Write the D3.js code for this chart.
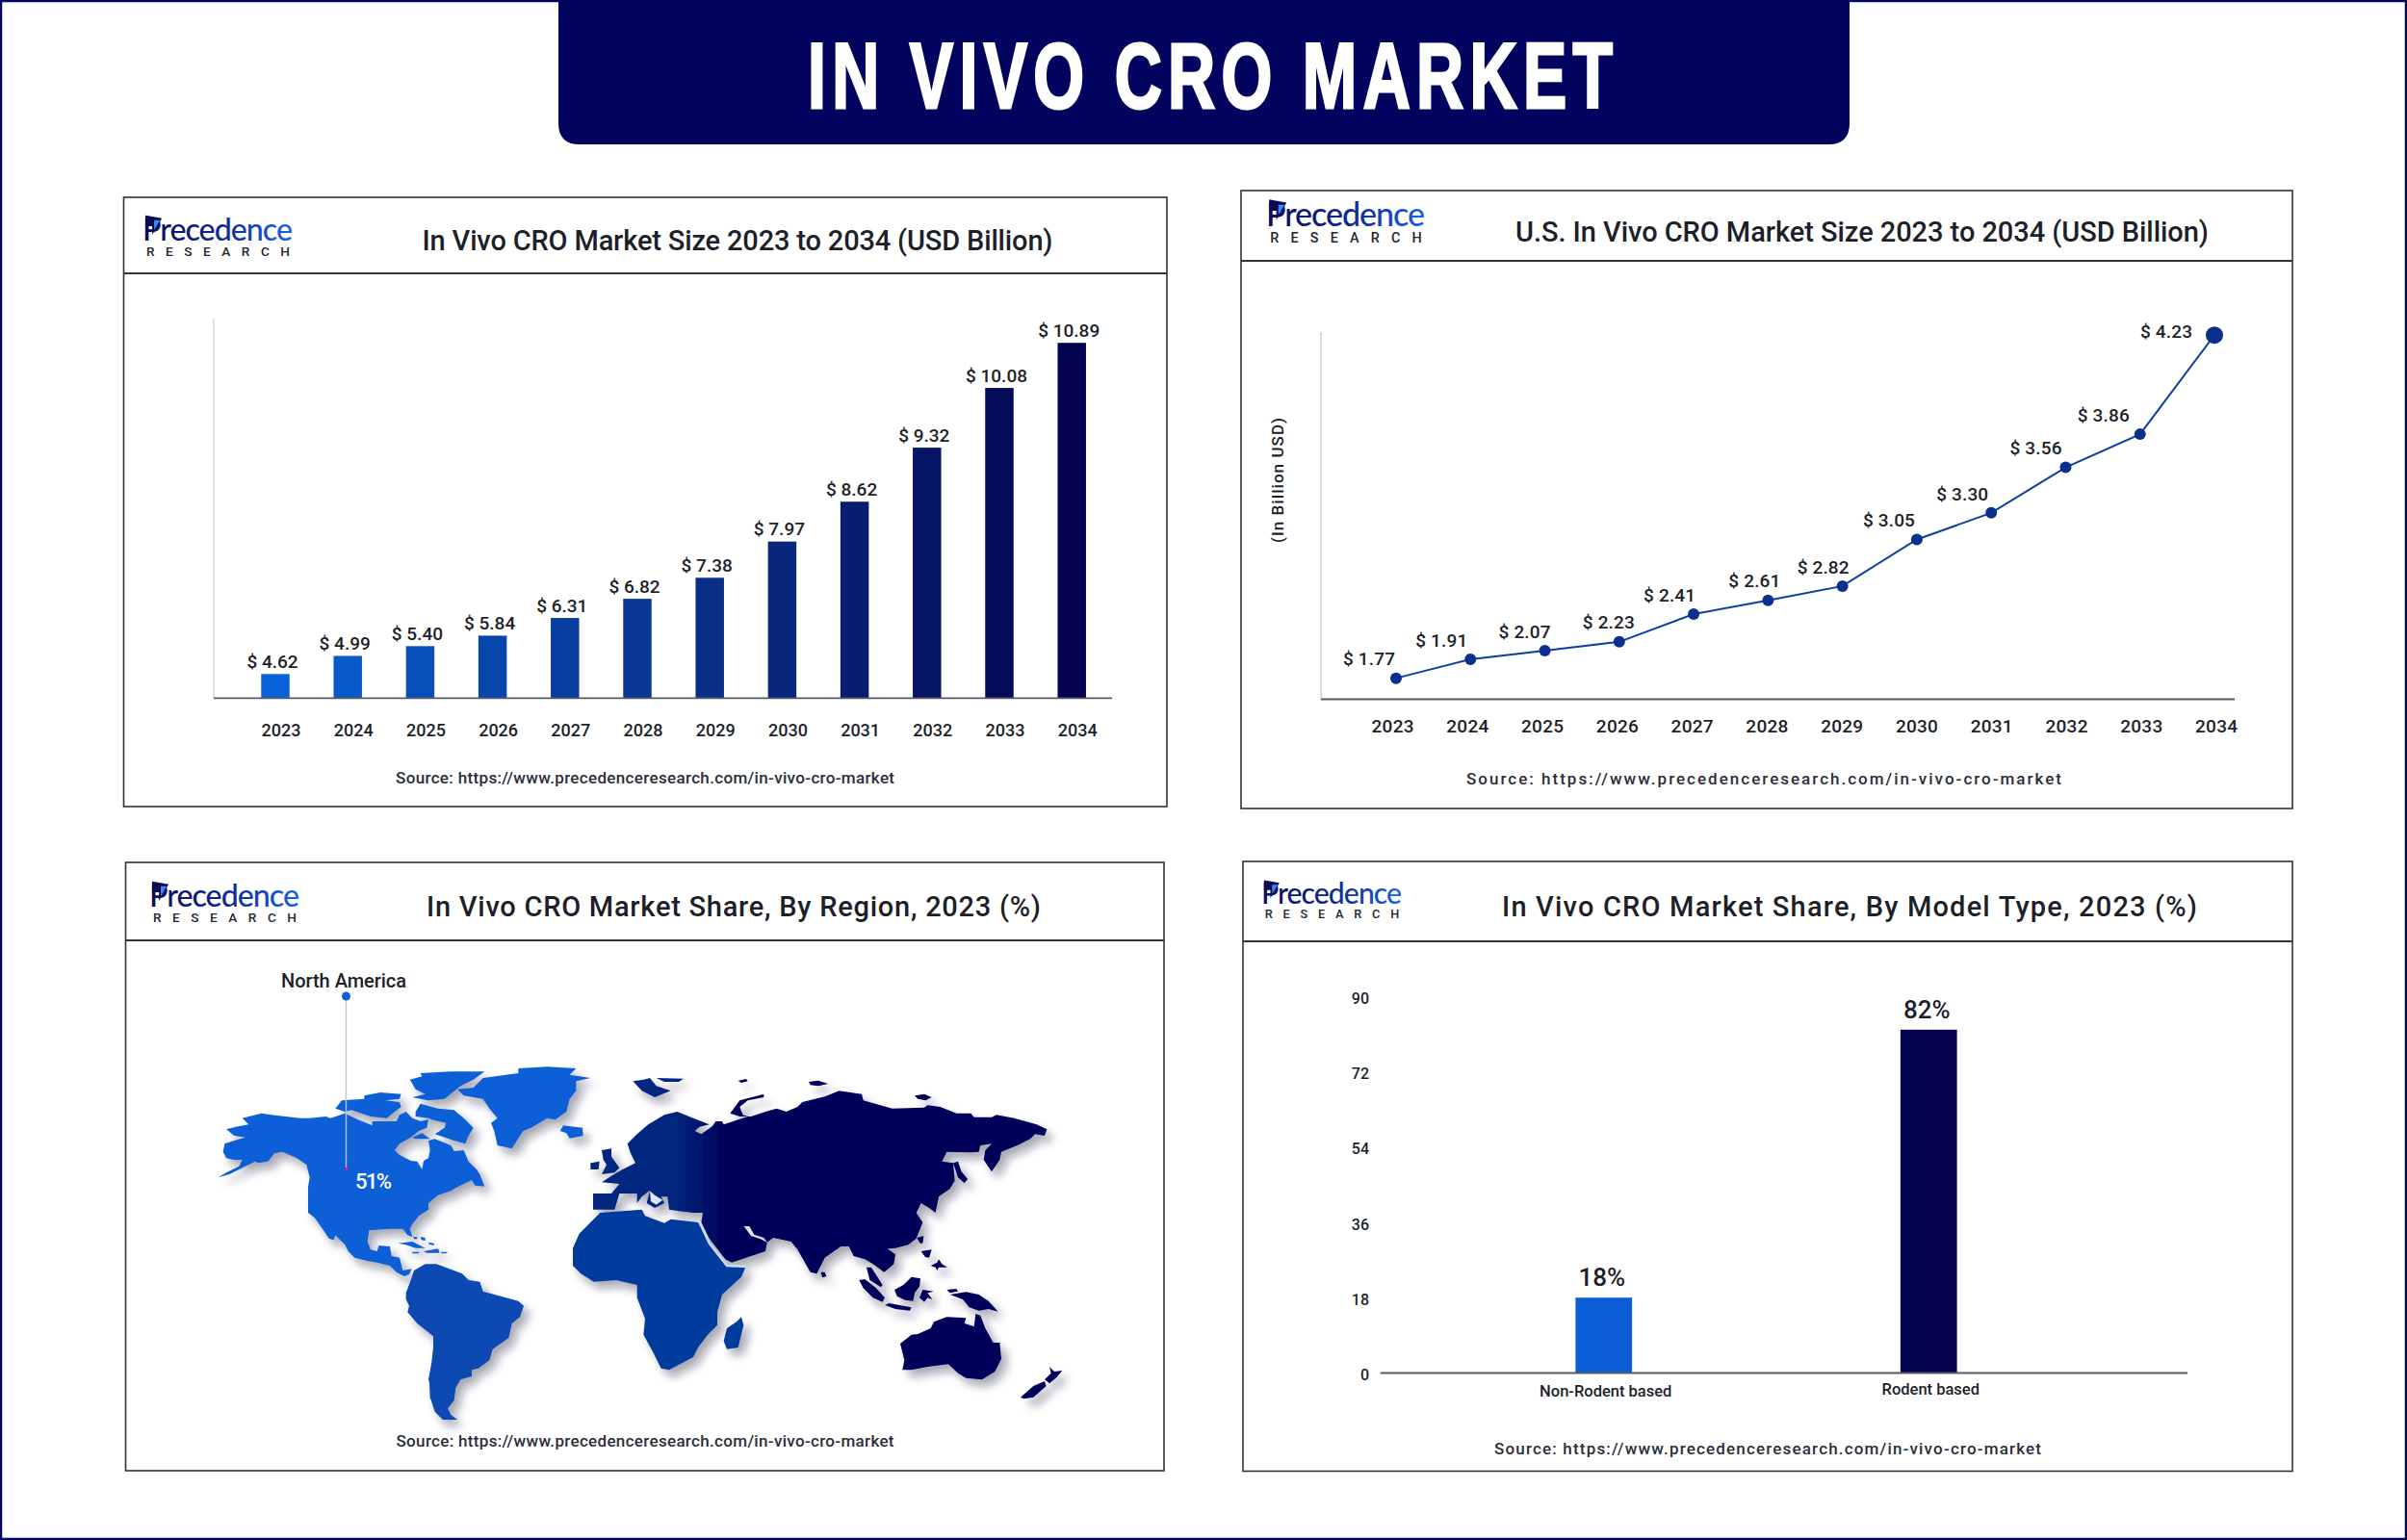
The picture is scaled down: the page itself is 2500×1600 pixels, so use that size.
<!DOCTYPE html>
<html>
<head>
<meta charset="utf-8">
<title>In Vivo CRO Market</title>
<script src="https://d3js.org/d3.v7.min.js"></script>
<style>
  body { margin: 0; background: #fff; }
  text { font-family: Roboto, "Noto Sans", sans-serif; font-weight: 500; fill: #1d1f2a; }
</style>
</head>
<body>
<svg id="chart" width="2500" height="1600"></svg>
<script>
// Chart data
const years = [2023, 2024, 2025, 2026, 2027, 2028, 2029, 2030, 2031, 2032, 2033, 2034];
const sizeValues = [4.62, 4.99, 5.40, 5.84, 6.31, 6.82, 7.38, 7.97, 8.62, 9.32, 10.08, 10.89];
const usValues = [1.77, 1.91, 2.07, 2.23, 2.41, 2.61, 2.82, 3.05, 3.30, 3.56, 3.86, 4.23];
const regionNames = ["North America"];
const regionShares = [51];
const modelTypes = ["Non-Rodent based", "Rodent based"];
const modelShares = [18, 82];
const modelTicks = [0, 18, 36, 54, 72, 90];

// The reference draws its bars and line on an uneven axis, not in proportion to the
// printed labels, so these two y scales are polylinear: value -> share of plot height
const sizeAxisValues = [4.62, 4.99, 5.84, 7.38, 8.62, 9.32, 10.08, 10.89];
const sizeAxisShare = [0.068, 0.119, 0.176, 0.339, 0.553, 0.705, 0.873, 1];
const usAxisValues = [1.77, 1.91, 2.23, 2.41, 2.82, 3.05, 3.30, 3.56, 3.86, 4.23];
const usAxisShare = [0.058, 0.110, 0.158, 0.234, 0.311, 0.439, 0.512, 0.637, 0.728, 1];

const sourceText = "Source: https://www.precedenceresearch.com/in-vivo-cro-market";

const svg = d3.select("#chart");
const defs = svg.append("defs");

// Gradients and the map shadow
const logoGrad = defs.append("linearGradient").attr("id", "logoGrad");
logoGrad.append("stop").attr("offset", "0%").attr("stop-color", "#0a0a55");
logoGrad.append("stop").attr("offset", "55%").attr("stop-color", "#102a9a");
logoGrad.append("stop").attr("offset", "100%").attr("stop-color", "#1a63e6");

const eurasiaGrad = defs.append("linearGradient").attr("id", "eurasiaGrad")
  .attr("gradientUnits", "userSpaceOnUse")
  .attr("x1", 700).attr("x2", 750).attr("y1", 0).attr("y2", 0);
eurasiaGrad.append("stop").attr("offset", "0%").attr("stop-color", "#05287f");
eurasiaGrad.append("stop").attr("offset", "100%").attr("stop-color", "#03035a");

const shadow = defs.append("filter").attr("id", "mapShadow")
  .attr("x", "-10%").attr("y", "-10%").attr("width", "120%").attr("height", "120%");
shadow.append("feDropShadow").attr("dx", 6).attr("dy", 7).attr("stdDeviation", 5)
  .attr("flood-color", "#1a1f3a").attr("flood-opacity", 0.38);

// Small text helper, y is the vertical centre of the text
function label(parent, x, y, str, size, opts = {}) {
  const t = parent.append("text")
    .attr("x", x).attr("y", y).attr("dy", "0.35em")
    .attr("text-anchor", opts.anchor || "middle")
    .style("font-size", size + "px")
    .text(str);
  if (opts.width) t.attr("textLength", opts.width).attr("lengthAdjust", "spacing");
  if (opts.fill) t.style("fill", opts.fill);
  if (opts.weight) t.style("font-weight", opts.weight);
  return t;
}

function logo(x, baseline, width) {
  const g = svg.append("g")
    .attr("transform", `translate(${x},${baseline}) scale(${width / 155})`);
  g.append("text")
    .attr("x", 0).attr("y", 0)
    .attr("textLength", 155).attr("lengthAdjust", "spacing")
    .style("font-family", "Lato, sans-serif").style("font-size", "32px").style("font-weight", 500)
    .style("fill", "url(#logoGrad)")
    .text("Precedence");
  g.append("path").attr("d", "M3,-26 L20,-23 L10,-6 L10,-15 L3,-15 Z").attr("fill", "#0a0a55");
  g.append("path").attr("d", "M12,-21 L18,-21 L12,-11 Z").attr("fill", "#3d8bf0");
  g.append("text")
    .attr("x", 4).attr("y", 16)
    .attr("textLength", 148).attr("lengthAdjust", "spacing")
    .style("font-size", "13.5px")
    .style("fill", "#23262f")
    .text("RESEARCH");
}

function panel(x0, y0, x1, y1, headerY, title, titleX, titleY, titleW, sourceX, sourceY, sourceW) {
  svg.append("rect")
    .attr("x", x0).attr("y", y0).attr("width", x1 - x0).attr("height", y1 - y0)
    .attr("fill", "#fff").attr("stroke", "#30323c").attr("stroke-width", 1.6);
  svg.append("line")
    .attr("x1", x0).attr("x2", x1).attr("y1", headerY).attr("y2", headerY)
    .attr("stroke", "#30323c").attr("stroke-width", 1.8);
  label(svg, titleX, titleY, title, 29, { width: titleW });
  label(svg, sourceX, sourceY, sourceText, 17, { width: sourceW, fill: "#2b2e3a" });
}

// Page frame and banner
svg.append("rect").attr("x", 1).attr("y", 1).attr("width", 2498).attr("height", 1598)
  .attr("fill", "#fff").attr("stroke", "#02025f").attr("stroke-width", 2.5);
svg.append("path")
  .attr("d", "M580,0 H1921 V128 Q1921,150 1899,150 H602 Q580,150 580,128 Z")
  .attr("fill", "#02025f");
svg.append("text")
  .attr("transform", "translate(839,112) scale(0.7,1)")
  .attr("textLength", 836 / 0.7).attr("lengthAdjust", "spacing")
  .style("font-family", '"Liberation Sans", sans-serif')
  .style("font-size", "97px").style("font-weight", 700).style("fill", "#fff")
  .style("stroke", "#fff").style("stroke-width", 3)
  .text("IN VIVO CRO MARKET");

// Top left: market size bars
panel(128.5, 205, 1212, 838, 284, "In Vivo CRO Market Size 2023 to 2034 (USD Billion)", 766, 250, 655, 670, 808, 518);
logo(148, 250, 156);

const sizeBase = 725.4, sizeTop = 356.2;
const sizeX = d3.scaleBand().domain(years).range([248.4, 1150.8]).paddingInner(0.608).paddingOuter(0.304);
const sizeY = d3.scaleLinear()
  .domain(sizeAxisValues)
  .range(sizeAxisShare.map(s => sizeBase - s * (sizeBase - sizeTop)));
const sizeColor = d3.scaleLinear().domain([0, 3, 6, 11])
  .range(["#0a62d8", "#0846ae", "#0a2f88", "#03034f"]);

svg.append("line").attr("x1", 222).attr("x2", 222).attr("y1", 331).attr("y2", sizeBase)
  .attr("stroke", "#d4d6dc").attr("stroke-width", 1.4);
svg.append("g").selectAll("rect").data(years).join("rect")
  .attr("x", d => sizeX(d))
  .attr("width", sizeX.bandwidth())
  .attr("y", (d, i) => sizeY(sizeValues[i]))
  .attr("height", (d, i) => sizeBase - sizeY(sizeValues[i]))
  .attr("fill", (d, i) => sizeColor(i));
svg.append("line").attr("x1", 222).attr("x2", 1155).attr("y1", sizeBase).attr("y2", sizeBase)
  .attr("stroke", "#555a66").attr("stroke-width", 1.8);
years.forEach((d, i) => {
  label(svg, sizeX(d) + sizeX.bandwidth() / 2 - 3, sizeY(sizeValues[i]) - 13, `$ ${sizeValues[i].toFixed(2)}`, 19);
});
const sizeAxis = svg.append("g").attr("transform", "translate(6,752)")
  .call(d3.axisBottom(sizeX).tickSize(0).tickPadding(0));
sizeAxis.select(".domain").remove();
sizeAxis.selectAll("text").style("font-size", "18px").style("fill", "#1d1f2a");

// Top right: U.S. market size line
panel(1289, 198, 2381, 840, 271, "U.S. In Vivo CRO Market Size 2023 to 2034 (USD Billion)", 1934, 240.5, 720, 1832, 809, 618);
logo(1315, 235, 165);

const usBase = 726.6, usTop = 348.2;
const usX = d3.scalePoint().domain(years).range([1450, 2300]);
const usTickX = d3.scalePoint().domain(years).range([1446, 2301.5]);
const usY = d3.scaleLinear()
  .domain(usAxisValues)
  .range(usAxisShare.map(s => usBase - s * (usBase - usTop)));
const usLine = d3.line().x((d, i) => usX(years[i])).y(d => usY(d));
// label nudges where the reference leaves the usual spot
const usLabelDx = { 2023: -28, 2024: -30, 2025: -21, 2026: -11, 2027: -25, 2028: -14, 2029: -20, 2030: -29, 2031: -30, 2032: -31, 2033: -38, 2034: -50 };

svg.append("line").attr("x1", 1372).attr("x2", 1372).attr("y1", 345).attr("y2", usBase)
  .attr("stroke", "#c9ccd3").attr("stroke-width", 1.4);
svg.append("line").attr("x1", 1372).attr("x2", 2321).attr("y1", usBase).attr("y2", usBase)
  .attr("stroke", "#555a66").attr("stroke-width", 2);
svg.append("path").datum(usValues).attr("d", usLine)
  .attr("fill", "none").attr("stroke", "#0d3f9f").attr("stroke-width", 2);
svg.append("g").selectAll("circle").data(usValues).join("circle")
  .attr("cx", (d, i) => usX(years[i]))
  .attr("cy", d => usY(d))
  .attr("r", (d, i) => i === years.length - 1 ? 9 : 6)
  .attr("fill", "#0b2f8c");
years.forEach((d, i) => {
  const dy = d === 2034 ? -4 : -20;
  label(svg, usX(d) + usLabelDx[d], usY(usValues[i]) + dy, `$ ${usValues[i].toFixed(2)}`, 19, { width: 54 });
});
const usAxis = svg.append("g").attr("transform", "translate(0,747)")
  .call(d3.axisBottom(usTickX).tickSize(0).tickPadding(0));
usAxis.select(".domain").remove();
usAxis.selectAll("text").style("font-size", "19px").style("fill", "#1d1f2a")
  .attr("textLength", 44).attr("lengthAdjust", "spacing");
label(svg, 0, 0, "(In Billion USD)", 17, { width: 130 })
  .attr("transform", "translate(1327,499) rotate(-90)");

// Bottom left: regional map. No geo data is reachable here, so the land shapes are
// traced by hand from crops of the reference (3x crop coordinates + the crop origin)
panel(130.5, 896, 1209, 1528, 977, "In Vivo CRO Market Share, By Region, 2023 (%)", 762, 942, 638, 670, 1497, 517);
logo(155, 942, 156);

const crop = (ox, oy, pts) => pts.map(([x, y]) => [ox + x / 3, oy + y / 3]);
const naCrop = pts => crop(215, 1100, pts);
const saCrop = pts => crop(400, 1300, pts);
const afCrop = pts => crop(580, 1100, pts);
const asCrop = pts => crop(700, 1100, pts);
const auCrop = pts => crop(820, 1280, pts);

const northAmericaLand = [
  naCrop([[35,370],[60,355],[100,335],[110,315],[85,315],[60,310],[50,290],[55,265],[85,255],[120,245],[85,240],[60,220],[90,212],[130,205],[110,185],[170,170],[200,175],[290,185],[320,185],[370,180],[385,185],[430,170],[470,190],[515,208],[515,195],[590,195],[600,175],[620,165],[640,185],[665,195],[690,190],[685,215],[660,225],[635,245],[600,265],[585,285],[600,300],[635,318],[655,320],[670,345],[675,318],[690,310],[695,285],[690,255],[710,250],[760,270],[770,288],[800,285],[815,320],[840,345],[850,360],[865,398],[835,395],[825,378],[800,390],[780,400],[760,412],[720,425],[690,450],[690,470],[660,490],[640,515],[632,530],[640,555],[625,550],[610,530],[570,530],[505,535],[500,570],[510,595],[530,600],[535,582],[570,585],[575,615],[600,620],[610,660],[638,655],[630,672],[615,678],[590,665],[570,645],[530,635],[500,630],[460,620],[440,600],[430,580],[400,550],[395,565],[380,560],[360,530],[335,495],[315,480],[315,400],[320,370],[310,330],[280,310],[235,290],[210,295],[190,320],[160,325],[150,320],[110,340],[70,360]]),
  naCrop([[400,155],[420,130],[490,125],[490,115],[540,105],[605,110],[600,125],[555,130],[600,135],[605,150],[585,165],[560,185],[510,180],[450,160],[430,165]]),
  naCrop([[650,165],[665,140],[720,155],[770,160],[800,185],[830,215],[815,240],[805,265],[770,255],[710,235],[740,215],[745,200],[700,190],[690,185],[650,180]]),
  naCrop([[632,65],[670,55],[665,45],[760,40],[865,40],[830,65],[790,85],[740,125],[690,130],[640,120],[680,110],[650,95]]),
  naCrop([[640,245],[670,232],[695,250],[650,250]]),
  naCrop([[780,95],[830,90],[860,60],[970,45],[970,30],[1060,25],[1150,30],[1130,50],[1195,60],[1150,70],[1150,100],[1130,125],[1120,165],[1085,190],[1060,185],[1010,215],[985,225],[950,280],[905,270],[895,225],[885,200],[905,185],[880,155],[860,125],[800,115]]),
  naCrop([[1100,225],[1110,208],[1170,215],[1172,240],[1130,248],[1120,232]]),
  naCrop([[595,575],[640,570],[680,590],[650,590],[620,580]]),
  naCrop([[675,600],[720,592],[725,605],[685,605]]),
  naCrop([[640,602],[660,602],[660,607],[640,607]]),
  naCrop([[730,602],[750,602],[745,607],[730,607]]),
  naCrop([[643,555],[655,556],[655,562],[645,562]]),
  naCrop([[665,555],[680,558],[680,567],[668,565]]),
  naCrop([[690,572],[708,576],[706,582],[692,578]])
];
const southAmericaLand = [
  saCrop([[65,130],[80,90],[90,60],[125,40],[160,40],[240,70],[260,90],[295,95],[305,125],[360,140],[415,155],[432,170],[420,205],[395,225],[385,270],[335,305],[325,340],[290,365],[270,370],[270,390],[235,400],[220,425],[215,465],[195,490],[205,510],[225,525],[180,525],[155,500],[140,455],[138,410],[135,400],[145,345],[150,300],[150,265],[100,225],[70,190],[75,170],[65,150]])
];
const africaLand = [
  afCrop([[45,590],[65,545],[130,480],[260,470],[270,490],[330,512],[350,500],[435,510],[470,570],[525,645],[585,645],[570,680],[510,735],[495,790],[495,830],[465,860],[435,900],[420,930],[345,970],[320,965],[295,915],[265,860],[270,810],[245,745],[245,705],[180,690],[110,695],[70,670],[45,645]]),
  afCrop([[515,880],[525,840],[555,820],[570,805],[577,830],[560,900],[525,905]])
];
const eurasiaLand = [
  [
    ...afCrop([[108,470],[108,420],[165,420],[190,390],[135,385],[165,365],[200,345],[240,325],[225,295],[215,265],[245,235],[280,205],[330,175],[370,165],[420,185],[470,205],[440,212],[425,225],[445,235],[480,210],[490,195],[510,195],[515,205],[590,180]]),
    ...asCrop([[240,180],[285,165],[320,155],[350,165],[385,150],[400,135],[470,118],[515,100],[585,110],[590,130],[680,155],[780,152],[790,145],[830,150],[880,170],[925,170],[935,182],[990,182],[1005,175],[1060,185],[1130,205],[1162,220],[1155,240],[1125,235],[1110,250],[1075,268],[1020,290],[1015,315],[990,352],[965,315],[970,285],[990,265],[955,270],[950,290],[925,292],[850,290],[835,320],[870,325],[875,380],[860,405],[825,430],[815,480],[795,465],[770,450],[755,480],[775,510],[755,560],[730,580],[690,590],[665,592],[690,610],[685,640],[655,665],[620,640],[595,625],[560,615],[545,585],[520,585],[470,620],[445,670],[425,665],[385,595],[365,570],[310,558],[290,572],[285,600],[180,635],[160,625],[110,560],[85,510],[90,480],[60,480]]),
    ...afCrop([[375,475],[345,470],[340,430],[320,430],[330,450],[300,465],[275,450],[285,410],[260,430],[245,450],[245,420],[190,420],[175,470]])
  ],
  afCrop([[135,285],[165,280],[165,305],[190,340],[175,355],[135,360],[150,330],[140,315]]),
  afCrop([[100,325],[128,320],[125,345],[100,345]]),
  afCrop([[232,70],[265,65],[285,60],[305,85],[350,100],[300,120],[260,100]]),
  afCrop([[305,60],[390,62],[375,72],[330,72]]),
  afCrop([[560,68],[585,63],[590,70],[570,75]])
];
const asiaLand = [
  afCrop([[535,170],[565,130],[640,110],[640,120],[590,130],[565,150],[575,175],[590,180],[565,180]]),
  asCrop([[420,72],[450,68],[480,78],[450,85],[425,82]]),
  asCrop([[750,115],[780,110],[803,120],[785,130],[760,125]]),
  asCrop([[870,325],[885,320],[895,350],[915,375],[905,388],[885,370]]),
  asCrop([[458,665],[470,665],[475,678],[462,682]]),
  asCrop([[757,558],[778,552],[775,575],[767,575]]),
  asCrop([[770,600],[803,595],[795,620],[783,618]]),
  asCrop([[800,645],[820,635],[825,625],[835,640],[852,650],[825,650],[820,660],[815,650]]),
  asCrop([[600,650],[615,650],[650,705],[645,712],[610,690]]),
  auCrop([[217,150],[235,147],[270,175],[297,205],[290,218],[260,205],[230,175]]),
  auCrop([[298,228],[310,222],[380,235],[375,245],[330,240]]),
  auCrop([[327,180],[355,165],[380,140],[408,145],[405,170],[390,190],[385,215],[360,212],[335,200]]),
  auCrop([[405,205],[415,180],[450,185],[430,190],[445,210],[430,205],[420,218]]),
  auCrop([[490,180],[520,177],[525,185],[500,190]]),
  auCrop([[500,195],[550,187],[590,195],[620,215],[650,248],[620,240],[590,245],[560,235],[540,210]]),
  auCrop([[345,348],[380,320],[400,318],[440,300],[450,280],[490,265],[550,268],[545,285],[575,295],[580,255],[595,260],[610,300],[635,345],[655,345],[660,395],[640,435],[600,460],[550,455],[525,440],[495,412],[430,420],[380,430],[352,430],[358,400]]),
  auCrop([[720,515],[760,480],[795,465],[800,480],[760,515],[730,520]]),
  auCrop([[795,460],[815,440],[810,420],[825,435],[850,432],[830,455],[810,472]])
];
const seaCuts = [
  asCrop([[218,522],[235,522],[250,548],[280,558],[290,572],[270,562],[240,552]]),
  afCrop([[285,412],[300,425],[325,440],[305,455],[288,445]])
];

const outline = d3.line();
const mapGroup = svg.append("g").attr("filter", "url(#mapShadow)");
[[northAmericaLand, "#0b5ed7"], [southAmericaLand, "#0748b3"], [africaLand, "#063a9e"],
 [eurasiaLand, "url(#eurasiaGrad)"], [asiaLand, "#03035a"]].forEach(([shapes, fill]) => {
  mapGroup.append("path")
    .attr("d", shapes.map(s => outline(s) + "Z").join(""))
    .attr("fill", fill);
});
svg.append("path")
  .attr("d", seaCuts.map(s => outline(s) + "Z").join(""))
  .attr("fill", "#dfe4f2");
svg.append("path")
  .attr("d", outline(afCrop([[440,510],[470,575],[525,645],[585,648]])))
  .attr("fill", "none").attr("stroke", "#cfd8ee").attr("stroke-width", 2.5);

// North America callout
svg.append("line").attr("x1", 359.5).attr("x2", 359.5).attr("y1", 1035).attr("y2", 1214)
  .attr("stroke", "#bfc4d2").attr("stroke-width", 1.4);
svg.append("circle").attr("cx", 359.5).attr("cy", 1035).attr("r", 4.5).attr("fill", "#0b5ed7");
svg.append("circle").attr("cx", 359.5).attr("cy", 1214.5).attr("r", 1.8).attr("fill", "#e0168a");
label(svg, 357, 1019, regionNames[0], 20, { width: 130 });
label(svg, 388, 1227, `${regionShares[0]}%`, 22, { fill: "#fff", width: 38 });

// Bottom right: share by model type
panel(1291, 895, 2381, 1528.5, 978, "In Vivo CRO Market Share, By Model Type, 2023 (%)", 1921, 942, 722, 1836, 1505, 568);
logo(1310, 939, 146);

const modelBase = 1426.5;
const modelX = d3.scaleBand().domain(modelTypes).range([1497, 2172]).paddingInner(0.826).paddingOuter(0.413);
const modelY = d3.scaleLinear().domain([0, 90]).range([modelBase, 1035]);
const modelColor = d3.scaleOrdinal().domain(modelTypes).range(["#0b5ed7", "#03034f"]);

svg.append("g").selectAll("rect").data(modelTypes).join("rect")
  .attr("x", d => modelX(d))
  .attr("width", modelX.bandwidth())
  .attr("y", (d, i) => modelY(modelShares[i]))
  .attr("height", (d, i) => modelBase - modelY(modelShares[i]))
  .attr("fill", d => modelColor(d));
svg.append("line").attr("x1", 1433.6).attr("x2", 2272).attr("y1", modelBase).attr("y2", modelBase)
  .attr("stroke", "#555a66").attr("stroke-width", 2.2);
modelTypes.forEach((d, i) => {
  const cx = modelX(d) + modelX.bandwidth() / 2;
  label(svg, cx - 2, modelY(modelShares[i]) - 21, `${modelShares[i]}%`, 26);
  label(svg, cx + 2, i === 0 ? 1445.6 : 1443, d, 16.5);
});
const modelAxis = svg.append("g").attr("transform", "translate(1422,2)")
  .call(d3.axisLeft(modelY).tickValues(modelTicks).tickSize(0).tickPadding(0));
modelAxis.select(".domain").remove();
modelAxis.selectAll("text").style("font-size", "16px").style("fill", "#1d1f2a");
</script>
</body>
</html>
